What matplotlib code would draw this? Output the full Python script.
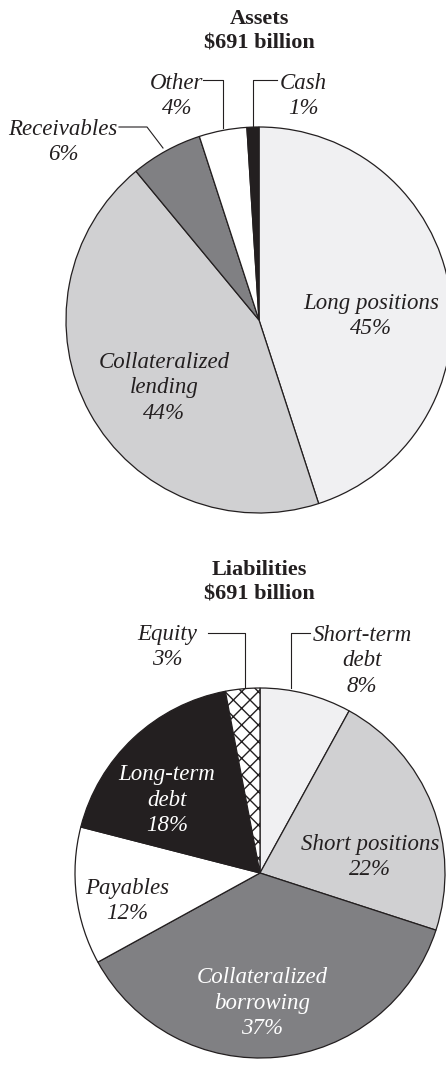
import matplotlib.pyplot as plt

# data
asset_labels = ["Long positions\n45%", "Collateralized\nlending\n44%", "Receivables\n6%", "Other\n4%", "Cash\n1%"]
asset_values = [45, 44, 6, 4, 1]
liab_labels = ["Short-term\ndebt\n8%", "Short positions\n22%", "Collateralized\nborrowing\n37%",
               "Payables\n12%", "Long-term\ndebt\n18%", "Equity\n3%"]
liab_values = [8, 22, 37, 12, 18, 3]

W, H = 446, 1076


def py(y):
    # pixel row -> data y
    return H - y


fig = plt.figure(figsize=(W / 100, H / 100), dpi=100)
ax = fig.add_axes([0, 0, 1, 1])
plt.rcParams['font.family'] = ['Liberation Serif', 'DejaVu Serif']

wprops = dict(edgecolor="#231f20", linewidth=0.9)

# assets pie
asset_colors = ["#f0f0f2", "#d0d0d2", "#808083", "#ffffff", "#231f20"]
ax.pie(asset_values, colors=asset_colors, startangle=90, counterclock=False,
       center=(259, py(320)), radius=193, wedgeprops=wprops)

# liabilities pie
liab_colors = ["#f0f0f2", "#d0d0d2", "#808083", "#ffffff", "#231f20", "#ffffff"]
wedges, _ = ax.pie(liab_values, colors=liab_colors, startangle=90, counterclock=False,
                   center=(260, py(873)), radius=185, wedgeprops=wprops)
wedges[-1].set_hatch("xx")

ax.set_xlim(0, W)
ax.set_ylim(0, H)
ax.set_aspect("equal")
ax.axis("off")

title_kw = dict(ha="center", va="center", fontsize=16, fontweight="bold", color="#231f20", linespacing=1.3)
ax.text(259, py(31), "Assets\n$691 billion", **title_kw)
ax.text(259, py(582), "Liabilities\n$691 billion", **title_kw)

lab_kw = dict(ha="center", va="center", fontsize=16.5, style="italic", linespacing=1.3)

# label positions (pixels) and text colours
asset_pos = [(371, 316, "#231f20"), (164, 388, "#231f20"), (63, 142, "#231f20"),
             (177, 96, "#231f20"), (303, 96, "#231f20")]
for lab, (x, y, c) in zip(asset_labels, asset_pos):
    ax.text(x, py(y), lab, color=c, **lab_kw)

liab_pos = [(362, 661, "#231f20"), (370, 857, "#231f20"), (262, 1003, "white"),
            (127, 901, "#231f20"), (167, 800, "white"), (167, 647, "#231f20")]
for lab, (x, y, c) in zip(liab_labels, liab_pos):
    ax.text(x, py(y), lab, color=c, **lab_kw)

# leader lines
leaders = [
    [(119, 127), (147, 127), (163, 148)],
    [(203, 80), (223, 80), (223, 128)],
    [(277, 80), (253, 80), (253, 127)],
    [(208, 633), (245, 633), (245, 688)],
    [(310, 633), (291, 633), (291, 688)],
]
for pts in leaders:
    ax.plot([p[0] for p in pts], [py(p[1]) for p in pts], color="#231f20", lw=0.8)

fig.savefig("out.png", dpi=100)
